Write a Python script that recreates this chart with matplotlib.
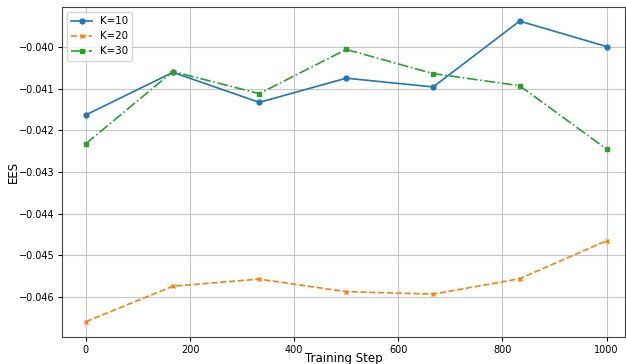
import numpy as np
import matplotlib.pyplot as plt

steps = [0, 167, 333, 500, 667, 833, 1000]
ees_k10 = [-0.04163, -0.04061, -0.04133, -0.04075, -0.04096, -0.03938, -0.03999]
ees_k20 = [-0.04659, -0.04574, -0.04557, -0.04587, -0.04593, -0.04556, -0.04465]
ees_k30 = [-0.04232, -0.04059, -0.04112, -0.04006, -0.04064, -0.04093, -0.04245]

fig = plt.figure(figsize=(6.26, 3.64), dpi=100)
ax = fig.add_axes([0.099, 0.074, 0.899, 0.907])

ax.plot(steps, ees_k10, marker='o', linestyle='-', markersize=3.5, linewidth=1.2, label='K=10')
ax.plot(steps, ees_k20, marker='x', linestyle='--', markersize=3.5, linewidth=1.2, label='K=20')
ax.plot(steps, ees_k30, marker='s', linestyle='-.', markersize=3.5, linewidth=1.2, label='K=30')

ax.set_xlim(-46, 1035)
ax.set_ylim(-0.04696, -0.03904)
ax.set_yticks([-0.046, -0.045, -0.044, -0.043, -0.042, -0.041, -0.040])
ax.set_xlabel('Training Step', fontsize=8.5)
ax.set_ylabel('EES', fontsize=8.5)
ax.xaxis.set_label_coords(0.5, -0.045)
ax.yaxis.set_label_coords(-0.075, 0.5)
ax.tick_params(labelsize=7, length=3, pad=2.5)
ax.grid(True, alpha=0.7, linewidth=0.8)
ax.legend(loc='upper left', fontsize=7.4)

for s in ax.spines.values():
    s.set_color('#444444')

fig.savefig('out.png')
